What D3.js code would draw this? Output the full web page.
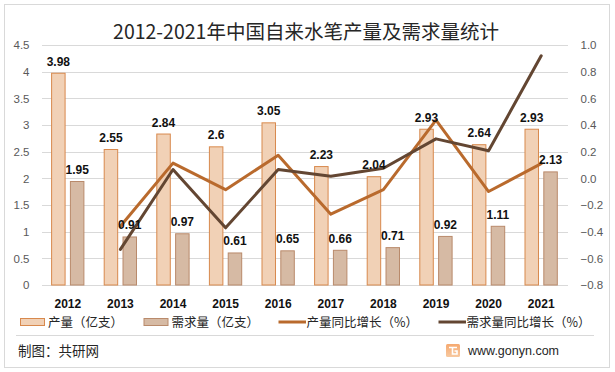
<!DOCTYPE html>
<html>
<head>
<meta charset="utf-8">
<script src="https://cdn.jsdelivr.net/npm/d3@7"></script>
<style>
  html, body { margin: 0; padding: 0; background: #fff; }
  svg { display: block; }
</style>
</head>
<body>
<svg id="chart" width="615" height="372"></svg>
<script>
// ---- data ----
const years = ["2012","2013","2014","2015","2016","2017","2018","2019","2020","2021"];
const production = [3.98, 2.55, 2.84, 2.6, 3.05, 2.23, 2.04, 2.93, 2.64, 2.93];
const demand = [1.95, 0.91, 0.97, 0.61, 0.65, 0.66, 0.71, 0.92, 1.11, 2.13];
const productionGrowth = [null, -0.36, 0.114, -0.085, 0.173, -0.269, -0.085, 0.436, -0.099, 0.11];
const demandGrowth = [null, -0.533, 0.066, -0.371, 0.066, 0.015, 0.076, 0.296, 0.207, 0.919];
const leftTicks = [0, 0.5, 1, 1.5, 2, 2.5, 3, 3.5, 4, 4.5];
const rightTicks = [-0.8, -0.6, -0.4, -0.2, 0, 0.2, 0.4, 0.6, 0.8, 1.0];
const titleText = "2012-2021年中国自来水笔产量及需求量统计";
const legendLabels = ["产量（亿支）", "需求量（亿支）", "产量同比增长（%）", "需求量同比增长（%）"];
const sourceText = "制图：共研网";
const siteText = "www.gonyn.com";

// ---- styles ----
const C = {
  prodFill: "#F1D1B6", prodStroke: "#D8894D",
  demFill: "#D6BAA4", demStroke: "#B98A6B",
  prodLine: "#B96A2D", demLine: "#634632",
  grid: "#D9D9D9", axisText: "#595959"
};
const cjk = "'Noto Sans CJK SC', 'Noto Sans', sans-serif";
const latin = "'Liberation Sans', Arial, sans-serif";

const svg = d3.select("#chart");

// outer border
svg.append("rect").attr("x", 4.5).attr("y", 4.5).attr("width", 605).attr("height", 363)
  .attr("fill", "#fff").attr("stroke", C.grid).attr("stroke-width", 1);

// title
svg.append("text").attr("x", 306).attr("y", 38.5).attr("text-anchor", "middle")
  .attr("font-family", cjk).attr("font-size", 19.5).attr("fill", "#262626")
  .text(titleText);

// scales
const plotL = 41.5, plotR = 567.5, plotT = 45, plotB = 285;
const x0 = d3.scaleBand().domain(years).range([plotL, plotR]).paddingInner(0).paddingOuter(0);
const x1 = d3.scaleBand().domain(["prod", "dem"]).range([9.6, 42.9]).paddingInner(0.23);
const yL = d3.scaleLinear().domain([0, 4.5]).range([plotB, plotT]);
const yR = d3.scaleLinear().domain([-0.8, 1.0]).range([plotB, plotT]);

// gridlines
const grid = svg.append("g").attr("transform", `translate(${plotL},0)`)
  .call(d3.axisLeft(yL).tickValues(leftTicks).tickSize(-(plotR - plotL)).tickFormat(""));
grid.select(".domain").remove();
grid.selectAll("line").attr("stroke", C.grid).attr("stroke-width", 1)
  .attr("shape-rendering", "crispEdges");

// left axis
const axL = svg.append("g").attr("transform", `translate(${plotL},0)`)
  .call(d3.axisLeft(yL).tickValues(leftTicks).tickSize(0).tickPadding(12).tickFormat(d3.format("")));
axL.select(".domain").remove();
axL.selectAll("text").attr("font-family", latin).attr("font-size", 11.5).attr("fill", C.axisText);

// right axis
const axR = svg.append("g").attr("transform", `translate(${plotR},0)`)
  .call(d3.axisRight(yR).tickValues(rightTicks).tickSize(0).tickPadding(13).tickFormat(d3.format(".1f")));
axR.select(".domain").remove();
axR.selectAll("text").attr("font-family", latin).attr("font-size", 11.5).attr("fill", C.axisText);

// bottom axis (years)
const axB = svg.append("g").attr("transform", `translate(0,${plotB})`)
  .call(d3.axisBottom(x0).tickSize(0).tickPadding(14));
axB.select(".domain").remove();
axB.selectAll("text").attr("font-family", latin).attr("font-size", 12).attr("font-weight", "bold").attr("fill", "#111");

// bars
const rows = years.map((y, i) => ({ year: y, prod: production[i], dem: demand[i] }));
const barG = svg.append("g");
const seriesDefs = [
  { key: "prod", fill: C.prodFill, stroke: C.prodStroke },
  { key: "dem", fill: C.demFill, stroke: C.demStroke }
];
seriesDefs.forEach(s => {
  barG.selectAll(null).data(rows).enter().append("rect")
    .attr("x", d => x0(d.year) + x1(s.key) + 0.5)
    .attr("width", x1.bandwidth() - 1)
    .attr("y", d => yL(d[s.key]) + 0.5)
    .attr("height", d => plotB - yL(d[s.key]) - 0.5)
    .attr("fill", s.fill).attr("stroke", s.stroke).attr("stroke-width", 1);
});

// lines
const cx = i => x0(years[i]) + x0.bandwidth() / 2;
const lineGen = d3.line().defined(d => d.v != null).x(d => cx(d.i)).y(d => yR(d.v));
[
  { vals: productionGrowth, color: C.prodLine },
  { vals: demandGrowth, color: C.demLine }
].forEach(s => {
  svg.append("path").datum(s.vals.map((v, i) => ({ v, i })))
    .attr("d", lineGen).attr("fill", "none").attr("stroke", s.color)
    .attr("stroke-width", 3).attr("stroke-linejoin", "round").attr("stroke-linecap", "round");
});

// data labels
seriesDefs.forEach(s => {
  svg.append("g").selectAll("text").data(rows).enter().append("text")
    .attr("x", d => x0(d.year) + x1(s.key) + x1.bandwidth() / 2)
    .attr("y", d => yL(d[s.key]) - 7)
    .attr("text-anchor", "middle")
    .attr("font-family", latin).attr("font-size", 12).attr("font-weight", "bold").attr("fill", "#111")
    .text(d => d[s.key]);
});

// legend
const legendY = 322;
const legendItems = [
  { label: legendLabels[0], type: "rect", fill: C.prodFill, stroke: C.prodStroke, x: 20 },
  { label: legendLabels[1], type: "rect", fill: C.demFill, stroke: C.demStroke, x: 143.5 },
  { label: legendLabels[2], type: "line", stroke: C.prodLine, x: 278.5 },
  { label: legendLabels[3], type: "line", stroke: C.demLine, x: 438.5 }
];
const lg = svg.append("g");
legendItems.forEach(it => {
  if (it.type === "rect") {
    lg.append("rect").attr("x", it.x + 0.5).attr("y", legendY - 3.5).attr("width", 24).attr("height", 7)
      .attr("fill", it.fill).attr("stroke", it.stroke).attr("stroke-width", 1);
  } else {
    lg.append("line").attr("x1", it.x).attr("x2", it.x + 27.5).attr("y1", legendY).attr("y2", legendY)
      .attr("stroke", it.stroke).attr("stroke-width", 3);
  }
  lg.append("text").attr("x", it.x + 28).attr("y", legendY).attr("dy", "0.36em")
    .attr("font-family", cjk).attr("font-size", 12.5).attr("fill", "#262626")
    .text(it.label);
});

// separator
svg.append("line").attr("x1", 16).attr("x2", 594).attr("y1", 335.5).attr("y2", 335.5)
  .attr("stroke", C.grid).attr("stroke-width", 1);

// footer source
svg.append("text").attr("x", 18).attr("y", 351).attr("dy", "0.36em")
  .attr("font-family", cjk).attr("font-size", 13.5).attr("fill", "#262626")
  .text(sourceText);

// logo
const defs = svg.append("defs");
const grad = defs.append("linearGradient").attr("id", "lg1").attr("x1", 0).attr("y1", 0).attr("x2", 0).attr("y2", 1);
grad.append("stop").attr("offset", "0%").attr("stop-color", "#F6A970");
grad.append("stop").attr("offset", "100%").attr("stop-color", "#F7C9A0");
const logo = svg.append("g").attr("transform", "translate(446,344)");
logo.append("rect").attr("width", 14).attr("height", 13).attr("rx", 1.5).attr("fill", "url(#lg1)");
logo.append("path").attr("d", "M3,3.5 H11 M6.5,3.5 V10 H11 V7 H8.5")
  .attr("fill", "none").attr("stroke", "#fff").attr("stroke-width", 1.6);

svg.append("text").attr("x", 468).attr("y", 350.5).attr("dy", "0.36em")
  .attr("font-family", latin).attr("font-size", 12.5).attr("fill", "#262626")
  .text(siteText);
</script>
</body>
</html>
